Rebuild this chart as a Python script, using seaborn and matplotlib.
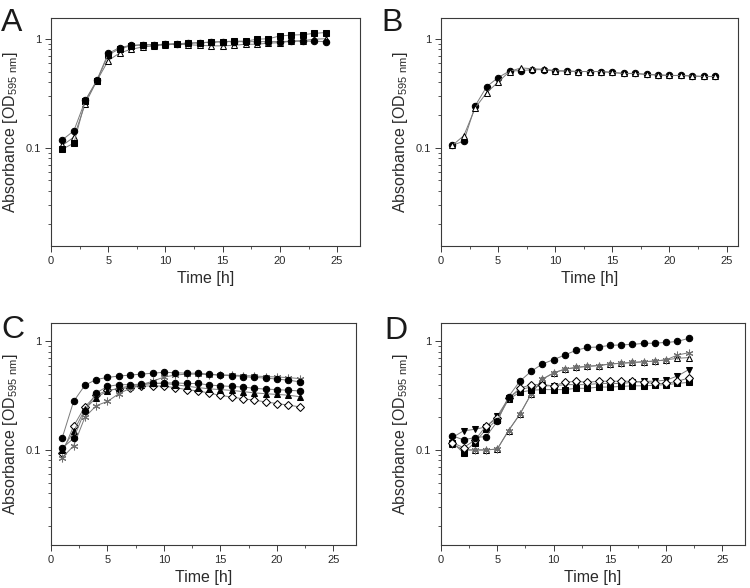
import matplotlib
matplotlib.use("Agg")
import matplotlib.pyplot as plt
import numpy as np
import pandas as pd
import seaborn as sns
from matplotlib.ticker import MultipleLocator, LogLocator, NullFormatter, FixedLocator, FixedFormatter

# ---------------- data ----------------
time_ab = list(range(1, 25))
time_cd = list(range(1, 23))

a_circle = [0.118, 0.143, 0.272, 0.414, 0.733, 0.83, 0.87, 0.88, 0.88, 0.89, 0.90, 0.91,
            0.92, 0.93, 0.94, 0.94, 0.94, 0.94, 0.94, 0.94, 0.95, 0.95, 0.95, 0.94]
a_square = [0.097, 0.110, 0.27, 0.41, 0.71, 0.81, 0.86, 0.88, 0.88, 0.89, 0.90, 0.91,
            0.92, 0.93, 0.94, 0.95, 0.95, 0.99, 1.00, 1.06, 1.08, 1.09, 1.12, 1.14]
a_triangle = [0.105, 0.125, 0.254, 0.41, 0.63, 0.74, 0.80, 0.84, 0.86, 0.88, 0.89, 0.88,
              0.87, 0.86, 0.86, 0.87, 0.89, 0.89, 0.91, 0.92, 0.95, 0.96, 0.99, 1.00]

b_circle = [0.105, 0.115, 0.243, 0.363, 0.44, 0.505, 0.51, 0.52, 0.52, 0.505, 0.505, 0.50,
            0.50, 0.50, 0.49, 0.48, 0.48, 0.47, 0.465, 0.46, 0.46, 0.455, 0.45, 0.45]
b_triangle = [0.105, 0.129, 0.232, 0.32, 0.40, 0.50, 0.54, 0.53, 0.525, 0.51, 0.505, 0.50,
              0.50, 0.50, 0.49, 0.48, 0.48, 0.47, 0.465, 0.46, 0.46, 0.455, 0.45, 0.45]

c_circle_hi = [0.13, 0.28, 0.395, 0.446, 0.466, 0.48, 0.49, 0.50, 0.51, 0.52, 0.515,
               0.51, 0.51, 0.50, 0.49, 0.485, 0.475, 0.466, 0.46, 0.45, 0.44, 0.425]
c_asterisk = [0.085, 0.109, 0.20, 0.256, 0.28, 0.33, 0.37, 0.40, 0.43, 0.47, 0.49,
              0.50, 0.50, 0.495, 0.49, 0.49, 0.485, 0.48, 0.475, 0.47, 0.465, 0.455]
c_circle_mid = [0.104, 0.128, 0.229, 0.336, 0.385, 0.40, 0.40, 0.404, 0.41, 0.415, 0.415,
                0.41, 0.41, 0.397, 0.39, 0.385, 0.38, 0.37, 0.364, 0.36, 0.355, 0.35]
c_triangle = [0.10, 0.148, 0.237, 0.304, 0.35, 0.37, 0.39, 0.40, 0.41, 0.41, 0.40,
              0.387, 0.376, 0.366, 0.36, 0.354, 0.345, 0.336, 0.33, 0.325, 0.32, 0.31]
c_diamond = [0.094, 0.166, 0.25, 0.32, 0.355, 0.366, 0.376, 0.387, 0.39, 0.387, 0.375,
             0.36, 0.35, 0.335, 0.318, 0.308, 0.296, 0.288, 0.277, 0.268, 0.259, 0.25]

d_circle = [0.135, 0.124, 0.13, 0.133, 0.183, 0.31, 0.43, 0.53, 0.62, 0.68, 0.75,
            0.83, 0.88, 0.89, 0.92, 0.93, 0.94, 0.96, 0.965, 0.98, 1.00, 1.07]
d_asterisk = [0.113, 0.10, 0.10, 0.10, 0.102, 0.151, 0.213, 0.327, 0.449, 0.513, 0.556,
              0.576, 0.59, 0.60, 0.62, 0.63, 0.64, 0.65, 0.66, 0.677, 0.75, 0.787]
d_triangle = [0.113, 0.10, 0.10, 0.10, 0.102, 0.151, 0.213, 0.327, 0.449, 0.513, 0.556,
              0.576, 0.59, 0.60, 0.62, 0.63, 0.64, 0.65, 0.66, 0.677, 0.70, 0.71]
d_tri_down = [0.13, 0.15, 0.155, 0.163, 0.205, 0.30, 0.36, 0.38, 0.39, 0.39, 0.40,
              0.40, 0.40, 0.41, 0.41, 0.41, 0.42, 0.43, 0.43, 0.44, 0.48, 0.55]
d_square = [0.117, 0.094, 0.117, 0.155, 0.19, 0.293, 0.34, 0.355, 0.36, 0.36, 0.36,
            0.37, 0.37, 0.38, 0.38, 0.385, 0.39, 0.39, 0.395, 0.40, 0.41, 0.42]
d_diamond = [0.117, 0.105, 0.123, 0.166, 0.196, 0.30, 0.37, 0.40, 0.40, 0.39, 0.42,
             0.43, 0.42, 0.43, 0.43, 0.43, 0.43, 0.42, 0.41, 0.41, 0.43, 0.46]

x_ticks = [0, 5, 10, 15, 20, 25]
y_ticks = [0.1, 1]
y_tick_labels = ["0.1", "1"]

# ---------------- style ----------------
sns.set_theme(style="ticks")
plt.rcParams["font.family"] = ["Liberation Sans", "DejaVu Sans"]
plt.rcParams["mathtext.default"] = "regular"
TXT = "#2b2b2b"

fig = plt.figure(figsize=(7.5, 5.88), dpi=100)

W, H = 750.0, 588.0
def add_ax(l, r, t, b):
    return fig.add_axes([l / W, 1 - b / H, (r - l) / W, (b - t) / H])

ax_a = add_ax(51, 360, 18, 246)
ax_b = add_ax(441, 738, 18, 246)
ax_c = add_ax(51, 356, 323, 545)
ax_d = add_ax(441, 745, 323, 545)

LINE = "#7a7a7a"

def series(ax, t, v, marker, filled=True, ms=4.6, mcolor="black", z=3):
    sns.lineplot(x=t, y=v, ax=ax, color=LINE, lw=0.7, marker=marker,
                 markersize=ms, markerfacecolor=(mcolor if filled else "white"),
                 markeredgecolor=mcolor, markeredgewidth=0.75, zorder=z,
                 errorbar=None, legend=False)

# panel A
series(ax_a, time_ab, a_triangle, "^", filled=False, z=3)
series(ax_a, time_ab, a_square, "s", ms=4.1, z=4)
series(ax_a, time_ab, a_circle, "o", z=5)
# panel B
series(ax_b, time_ab, b_circle, "o", z=3)
series(ax_b, time_ab, b_triangle, "^", filled=False, z=4)
# panel C
series(ax_c, time_cd, c_diamond, "D", filled=False, ms=3.9, z=3)
series(ax_c, time_cd, c_triangle, "^", z=4)
series(ax_c, time_cd, c_asterisk, (6, 2, 0), ms=5.5, mcolor="#707070", z=5)
series(ax_c, time_cd, c_circle_mid, "o", z=6)
series(ax_c, time_cd, c_circle_hi, "o", z=6)
# panel D
series(ax_d, time_cd, d_triangle, "^", filled=False, z=3)
series(ax_d, time_cd, d_asterisk, (6, 2, 0), ms=5.5, mcolor="#707070", z=4)
series(ax_d, time_cd, d_tri_down, "v", z=4)
series(ax_d, time_cd, d_square, "s", ms=4.1, z=5)
series(ax_d, time_cd, d_diamond, "D", filled=False, ms=3.9, z=6)
series(ax_d, time_cd, d_circle, "o", z=6)

limits = {ax_a: (27, (0.0125, 1.55)), ax_b: (26, (0.0125, 1.55)),
          ax_c: (27, (0.0133, 1.48)), ax_d: (27, (0.0133, 1.48))}

for ax, (xr, yl) in limits.items():
    ax.set_yscale("log")
    ax.set_xlim(0, xr)
    ax.set_ylim(*yl)
    ax.xaxis.set_major_locator(FixedLocator(x_ticks))
    ax.xaxis.set_minor_locator(MultipleLocator(2.5))
    ax.yaxis.set_major_locator(FixedLocator(y_ticks))
    ax.yaxis.set_major_formatter(FixedFormatter(y_tick_labels))
    ax.yaxis.set_minor_locator(LogLocator(base=10, subs=np.arange(2, 10)))
    ax.yaxis.set_minor_formatter(NullFormatter())
    for s in ax.spines.values():
        s.set_visible(True)
        s.set_color("#3a3a3a")
        s.set_linewidth(0.8)
    ax.tick_params(which="major", direction="out", length=4, width=0.7,
                   color="#3a3a3a", labelsize=8, labelcolor=TXT, pad=3)
    ax.tick_params(which="minor", direction="out", length=2.5, width=0.6,
                   color="#3a3a3a")
    ax.set_xlabel("Time [h]", fontsize=11.5, color=TXT, labelpad=4)
    ax.set_ylabel("Absorbance [OD$_{595\\ nm}$]", fontsize=11.5, color=TXT, labelpad=4)
    ax.set_facecolor("white")

for letter, (x, y) in zip("ABCD", [(1, 31), (381, 31), (1, 338), (384, 339)]):
    fig.text(x / W, 1 - y / H, letter, fontsize=23, color="#1a1a1a",
             ha="left", va="baseline")

fig.savefig("out.png", dpi=100, facecolor="white")
